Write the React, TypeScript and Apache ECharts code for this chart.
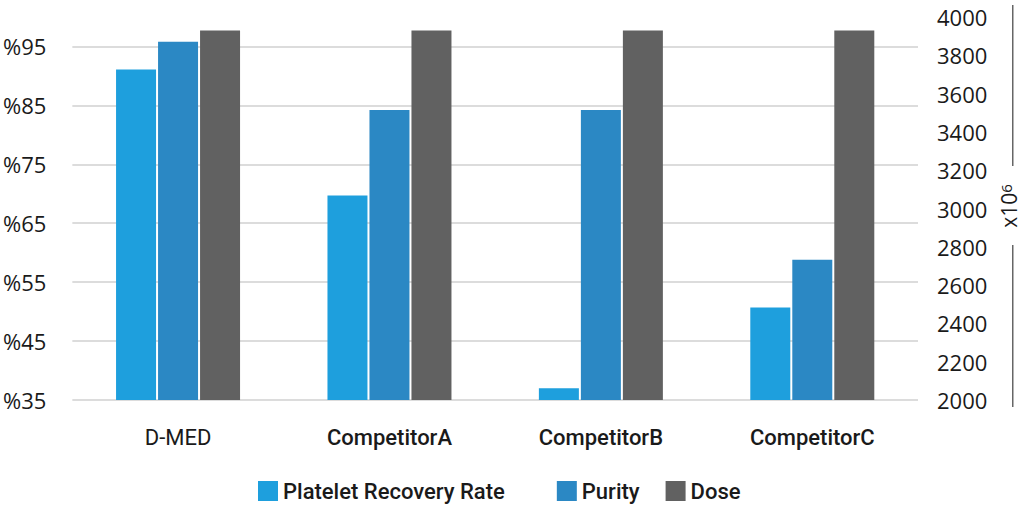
import { useEffect, useRef } from 'react';
import * as echarts from 'echarts';

const categories = ['D-MED', 'CompetitorA', 'CompetitorB', 'CompetitorC'];
const recoveryRate = [91.1, 69.7, 37.0, 50.7];
const purity = [95.8, 84.2, 84.2, 58.8];
const dose = [3930, 3930, 3930, 3930];

const leftTicks = { min: 35, max: 100, step: 10 };
const rightTicks = { min: 2000, max: 4000, step: 200 };

const GRID = '#dcdcdc';
const TEXT = '#1a1a1a';

export default function App() {
  const chartRef = useRef<HTMLDivElement>(null);

  useEffect(() => {
    document.body.style.margin = '0';
    if (!chartRef.current) return;
    const chart = echarts.init(chartRef.current, undefined, { renderer: 'svg' });

    // one colour per split line from min upward; the top (max) line is hidden
    const lineCount = Math.floor((leftTicks.max - leftTicks.min) / leftTicks.step) + 2;
    const splitColors = Array.from({ length: lineCount }, (_, i) => (i < lineCount - 1 ? GRID : 'rgba(0,0,0,0)'));

    const legendText = { fontFamily: 'Roboto', fontSize: 22, fontWeight: 500, color: TEXT, lineHeight: 24 };
    const unitText = { fontFamily: 'Open Sans', fontSize: 21, fill: TEXT };

    chart.setOption({
      animation: false,
      grid: { left: 72, right: 106, top: 17, bottom: 105 },
      legend: {
        left: 253, top: 474,
        itemWidth: 20, itemHeight: 20, itemGap: 20,
        icon: 'rect',
        formatter: (name: string) => (name === 'Purity' ? `{u|${name}}` : name === 'Dose' ? `{d|${name}}` : `{p|${name}}`),
        textStyle: {
          ...legendText,
          rich: {
            p: { ...legendText, padding: [0, 32, 0, 0] },
            u: { ...legendText, padding: [0, 6, 0, 0] },
            d: { ...legendText },
          },
        },
        data: ['Platelet Recovery Rate', 'Purity', 'Dose'],
      },
      xAxis: {
        type: 'category',
        data: categories,
        axisLine: { show: false },
        axisTick: { show: false },
        axisLabel: {
          margin: 26,
          fontFamily: 'Roboto',
          fontSize: 22,
          color: TEXT,
          formatter: (v: string, i: number) => (i === 0 ? `{n|${v}}` : `{b|${v}}`),
          rich: {
            n: { fontFamily: 'Roboto', fontSize: 22, fontWeight: 400, color: TEXT },
            b: { fontFamily: 'Roboto', fontSize: 22, fontWeight: 500, color: TEXT },
          },
        },
      },
      yAxis: [
        {
          type: 'value',
          min: leftTicks.min, max: leftTicks.max, interval: leftTicks.step,
          axisLine: { show: false },
          axisTick: { show: false },
          axisLabel: {
            margin: 26,
            fontFamily: 'Open Sans',
            fontSize: 22,
            color: TEXT,
            formatter: (v: number) => (v >= leftTicks.max ? '' : `%${v}`),
          },
          splitLine: { show: true, lineStyle: { color: splitColors, width: 2 } },
        },
        {
          type: 'value',
          position: 'right',
          min: rightTicks.min, max: rightTicks.max, interval: rightTicks.step,
          axisLine: { show: false },
          axisTick: { show: false },
          axisLabel: {
            margin: 19, fontFamily: 'Open Sans', fontSize: 22, color: TEXT,
            formatter: (v: number) => String(v),
          },
          splitLine: { show: false },
        },
      ],
      series: [
        {
          name: 'Platelet Recovery Rate', type: 'bar', yAxisIndex: 0,
          data: recoveryRate, barWidth: 40, barGap: '5%',
          itemStyle: { color: '#1e9fdd' },
        },
        {
          name: 'Purity', type: 'bar', yAxisIndex: 0,
          data: purity, barWidth: 40, barGap: '5%',
          itemStyle: { color: '#2b88c4' },
        },
        {
          name: 'Dose', type: 'bar', yAxisIndex: 1,
          data: dose, barWidth: 40, barGap: '5%',
          itemStyle: { color: '#616161' },
        },
      ],
      graphic: [
        // rules above and below the right axis title
        { type: 'rect', x: 1012, y: 5, shape: { x: 0, y: 0, width: 1.5, height: 161 }, style: { fill: '#666' }, z: 20 },
        { type: 'rect', x: 1012, y: 245, shape: { x: 0, y: 0, width: 1.5, height: 162 }, style: { fill: '#666' }, z: 20 },
        {
          type: 'text', x: 1009, y: 206, rotation: Math.PI / 2,
          style: {
            text: 'x10{s|6}',
            ...unitText,
            align: 'center', verticalAlign: 'middle',
            rich: { s: { ...unitText, fontSize: 15, verticalAlign: 'top', lineHeight: 18 } },
          },
        },
      ],
    });

    return () => chart.dispose();
  }, []);

  return <div ref={chartRef} style={{ width: 1024, height: 505 }} />;
}
